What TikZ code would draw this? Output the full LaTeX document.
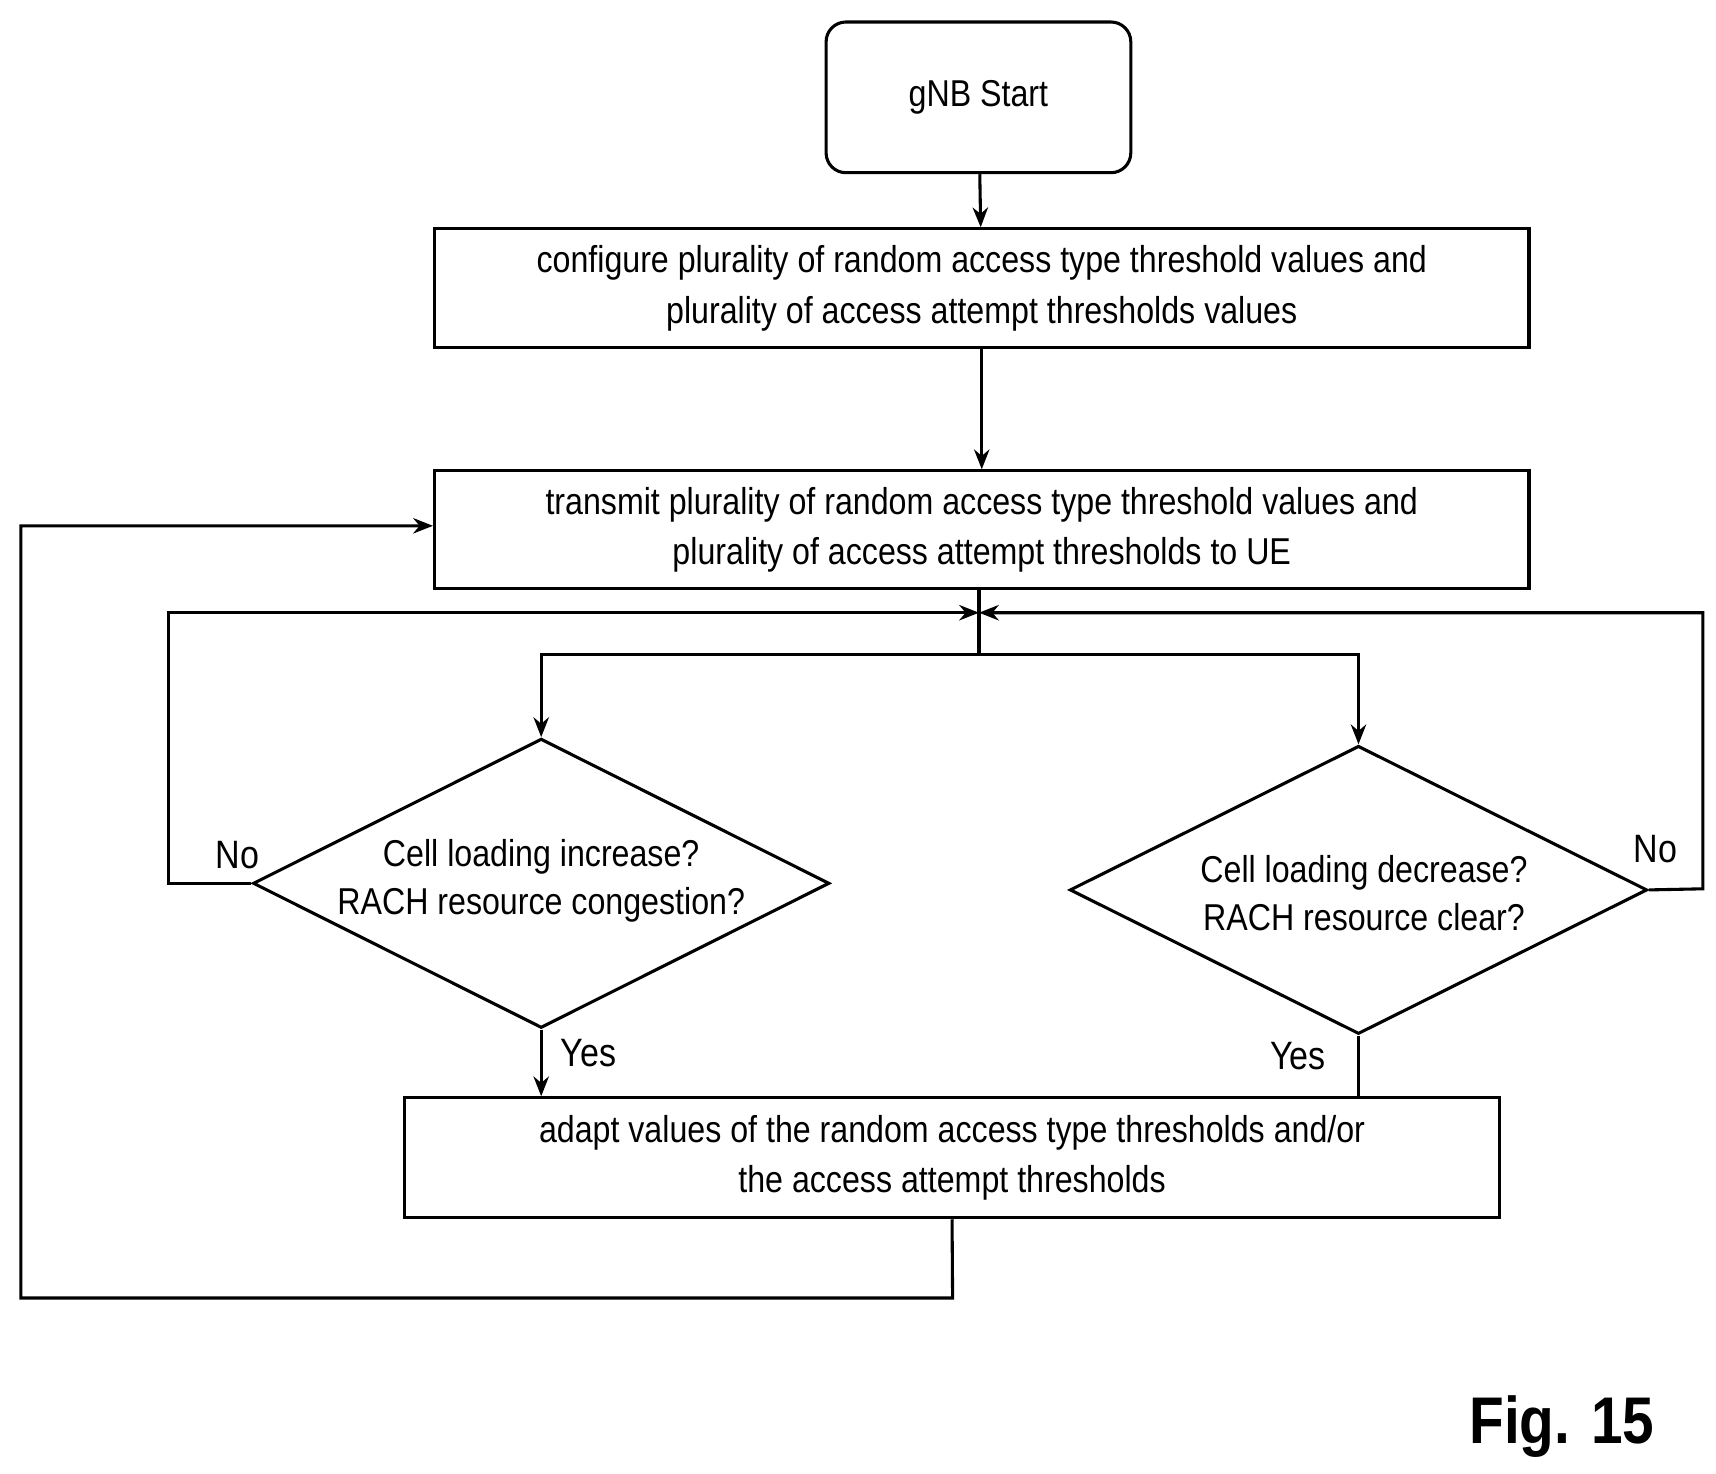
\documentclass[tikz,border=0pt]{standalone}
\usepackage{fontspec}
\setmainfont{Liberation Sans}[FakeStretch=0.86]
\usetikzlibrary{shapes.geometric,arrows.meta}
\begin{document}
\begin{tikzpicture}[x=0.5pt,y=-0.5pt,
  line width=1.4pt, >={Stealth[length=9pt,width=7pt]},
  box/.style={draw,inner sep=0pt,align=center,font=\fontsize{17}{23}\selectfont},
  dia/.style={draw,diamond,inner sep=0pt},
  txt/.style={font=\fontsize{17}{22}\selectfont,align=center}]
\useasboundingbox (0,0) rectangle (1560,1340);
\node[box,rounded corners=9pt,minimum width=138.5pt,minimum height=68.5pt] (start) at (889.5,88.5) {gNB Start};
\node[box,minimum width=497.5pt,minimum height=54pt] (b1) at (892.5,262) {configure plurality of random access type threshold values and\\plurality of access attempt thresholds values};
\node[box,minimum width=497.5pt,minimum height=53.5pt] (b2) at (892.5,481.5) {transmit plurality of random access type threshold values and\\plurality of access attempt thresholds to UE};
\node[box,minimum width=497.5pt,minimum height=54.5pt] (b3) at (865.5,1052.5) {adapt values of the random access type thresholds and/or\\the access attempt thresholds};
\node[dia,minimum width=262pt,minimum height=131.5pt] (d1) at (492,803) {};
\node[txt] at (492,801) {Cell loading increase?\\RACH resource congestion?};
\node[dia,minimum width=262.5pt,minimum height=131pt] (d2) at (1235,809) {};
\node[txt] at (1240,812) {Cell loading decrease?\\RACH resource clear?};
\coordinate (j) at (890,557);
\coordinate (s) at (890,595);
\draw[->] (start) -- (b1);
\draw[->] (b1) -- (b2);
\draw (b2.south -| j) -- (s);
\draw[->] (s) -| (d1.north);
\draw[->] (s) -| (d2.north);
\draw[->] (d1.west) -- (153,803) |- (j);
\draw[->] (d2.east) -- (1548,808) |- (j);
\draw[->] (d1.south) -- (d1.south |- b3.north);
\draw (d2.south) -- (d2.south |- b3.north);
\draw[->] (b3.south) -- (866,1180) -- (19,1180) |- (b2.west |- 0,478);
\node[txt,font=\fontsize{18}{22}\selectfont] at (216,777) {No};
\node[txt,font=\fontsize{18}{22}\selectfont] at (1505,772) {No};
\node[txt,font=\fontsize{18}{22}\selectfont] at (535,957) {Yes};
\node[txt,font=\fontsize{18}{22}\selectfont] at (1180,960) {Yes};
\node[font=\fontsize{30}{34}\selectfont\bfseries] at (1420,1297) {Fig. 15};
\end{tikzpicture}
\end{document}
